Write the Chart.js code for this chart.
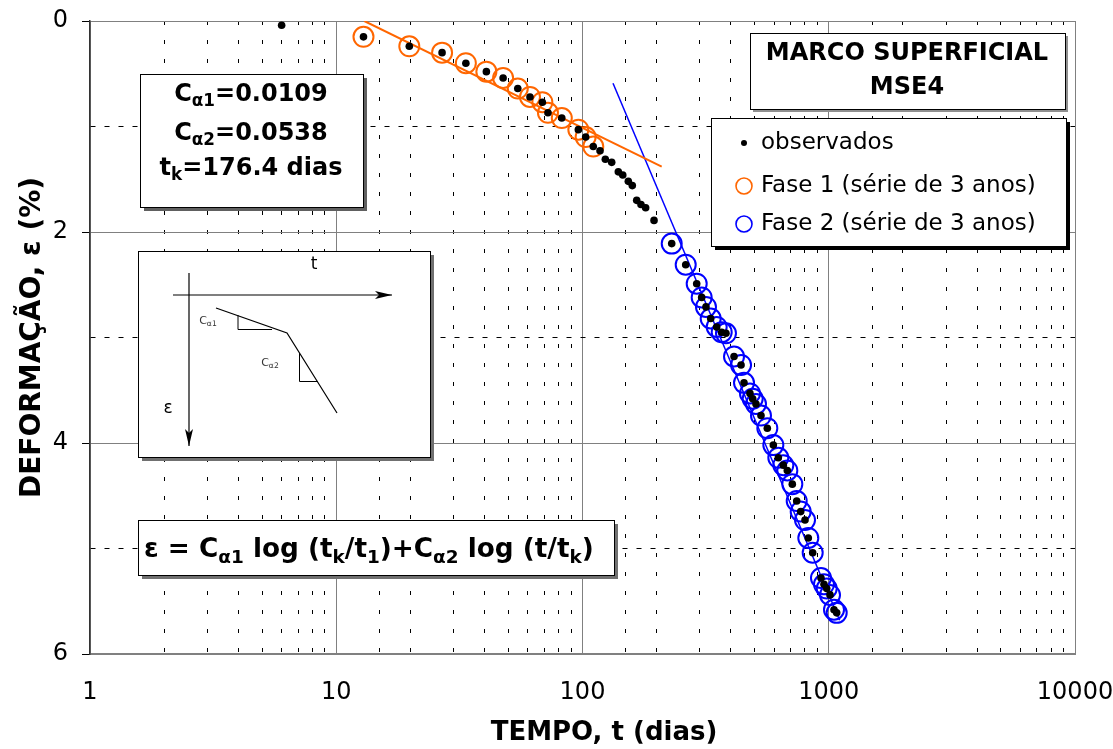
<!DOCTYPE html>
<html lang="pt">
<head>
<meta charset="utf-8">
<title>Marco superficial MSE4</title>
<script src="https://cdn.jsdelivr.net/npm/chart.js@4.4.1/dist/chart.umd.min.js"></script>
<style>
  html, body { margin: 0; padding: 0; background: #fff; }
  #grafico { display: block; }
</style>
</head>
<body>
<canvas id="grafico" width="1113" height="749"></canvas>
<script>
// Valores: tempo (dias) e deformação (%)
const tInicial = [6.0];
const eInicial = [0.04];

const tFase1 = [12.9, 19.8, 26.9, 33.6, 40.7, 47.6, 54.6, 61.2, 68.7, 72.4, 82.4, 96.2, 103.0, 110.6];
const eFase1 = [0.15, 0.24, 0.30, 0.40, 0.48, 0.54, 0.64, 0.72, 0.77, 0.87, 0.92, 1.03, 1.10, 1.19];

const tTransicao = [117.8, 123.8, 131.4, 139.8, 145.7, 153.5, 159.3, 166.0, 172.8, 180.5, 195.2];
const eTransicao = [1.23, 1.31, 1.34, 1.43, 1.46, 1.52, 1.56, 1.70, 1.74, 1.77, 1.89];

const tFase2 = [230.3, 262.5, 290.9, 304.8, 317.3, 331.6, 350.7, 367.5, 382.5, 412.4, 440.4, 452.8,
                478.8, 491.1, 506.5, 530.7, 563.0, 595.6, 624.1, 653.9, 678.8, 711.2, 741.1, 769.3,
                800.9, 826.0, 860.6, 930.0, 956.5, 981.1, 1011.8, 1050.3, 1077.2];
const eFase2 = [2.11, 2.31, 2.49, 2.62, 2.71, 2.82, 2.90, 2.95, 2.96, 3.18, 3.26, 3.43,
                3.53, 3.58, 3.63, 3.74, 3.86, 4.02, 4.14, 4.21, 4.26, 4.39, 4.55, 4.65,
                4.73, 4.90, 5.04, 5.28, 5.34, 5.38, 5.44, 5.58, 5.61];

// Retas de ajuste (extremos)
const tReta1 = [13.0, 209.7];
const eReta1 = [0.0, 1.38];
const tReta2 = [133, 1107];
const eReta2 = [0.59, 5.68];

// Rótulos dos eixos
const xTicks = [1, 10, 100, 1000, 10000];
const yTicks = [0, 2, 4, 6];

const FONTE = '"DejaVu Sans", sans-serif';
const LARANJA = '#ff6600';
const AZUL = '#0000ff';

Chart.defaults.font.family = FONTE;
Chart.defaults.color = '#000';

const pontos = (ts, es) => ts.map((t, i) => ({ x: t, y: es[i] }));
const ehDecada = v => xTicks.some(t => Math.abs(t - v) < t * 1e-6);
const ehPar = v => yTicks.includes(v);

// texto com subscritos: partes = [[texto, sub], ...]
function textoRico(ctx, partes, x, y, tam, negrito, alinhar) {
    const fonte = s => (negrito ? 'bold ' : '') + s + 'px ' + FONTE;
    let total = 0;
    partes.forEach(([t, sub]) => {
        ctx.font = fonte(sub ? tam * 0.7 : tam);
        total += ctx.measureText(t).width;
    });
    let cx = alinhar === 'center' ? x - total / 2 : x;
    ctx.textAlign = 'left';
    ctx.textBaseline = 'alphabetic';
    partes.forEach(([t, sub]) => {
        ctx.font = fonte(sub ? tam * 0.7 : tam);
        ctx.fillText(t, cx, y + (sub ? tam * 0.22 : 0));
        cx += ctx.measureText(t).width;
    });
}

function caixa(ctx, x, y, w, h, sombra, corSombra) {
    ctx.fillStyle = corSombra;
    ctx.fillRect(x + sombra, y + sombra, w, h);
    ctx.fillStyle = '#fff';
    ctx.fillRect(x, y, w, h);
    ctx.strokeStyle = '#000';
    ctx.lineWidth = 1;
    ctx.strokeRect(x + 0.5, y + 0.5, w, h);
}

function seta(ctx, x1, y1, x2, y2) {
    const ang = Math.atan2(y2 - y1, x2 - x1);
    ctx.beginPath();
    ctx.moveTo(x1, y1);
    ctx.lineTo(x2, y2);
    ctx.stroke();
    ctx.save();
    ctx.translate(x2, y2);
    ctx.rotate(ang);
    ctx.beginPath();
    ctx.moveTo(0, 0);
    ctx.lineTo(-17, -4);
    ctx.lineTo(-13, 0);
    ctx.lineTo(-17, 4);
    ctx.closePath();
    ctx.fill();
    ctx.restore();
}

const anotacoes = {
    id: 'anotacoes',
    afterDraw(chart) {
        const ctx = chart.ctx;
        ctx.save();

        // título do eixo x
        ctx.fillStyle = '#000';
        ctx.font = 'bold 26px ' + FONTE;
        ctx.textAlign = 'center';
        ctx.textBaseline = 'middle';
        ctx.fillText('TEMPO, t (dias)', 604, 733);

        // caixa dos coeficientes
        caixa(ctx, 140, 74, 223, 133, 4, '#606060');
        ctx.fillStyle = '#000';
        textoRico(ctx, [['C', 0], ['α1', 1], ['=0.0109', 0]], 251, 101, 24, true, 'center');
        textoRico(ctx, [['C', 0], ['α2', 1], ['=0.0538', 0]], 251, 140, 24, true, 'center');
        textoRico(ctx, [['t', 0], ['k', 1], ['=176.4 dias', 0]], 251, 175, 24, true, 'center');

        // esquema
        caixa(ctx, 138, 251, 292, 206, 4, '#707070');
        ctx.strokeStyle = '#000';
        ctx.fillStyle = '#000';
        ctx.lineWidth = 1.2;
        seta(ctx, 173, 295, 392, 295);
        seta(ctx, 189, 273, 189, 446);
        ctx.beginPath();
        ctx.moveTo(216, 308);
        ctx.lineTo(287, 333);
        ctx.lineTo(337, 413);
        ctx.stroke();
        ctx.lineWidth = 1;
        ctx.beginPath();
        ctx.moveTo(238, 315);
        ctx.lineTo(238, 329.5);
        ctx.lineTo(272, 329.5);
        ctx.moveTo(299.5, 353);
        ctx.lineTo(299.5, 381.5);
        ctx.lineTo(318, 381.5);
        ctx.stroke();
        ctx.font = '17px ' + FONTE;
        ctx.textAlign = 'center';
        ctx.textBaseline = 'middle';
        ctx.fillText('t', 314, 265);
        ctx.fillText('ε', 168, 409);
        ctx.fillStyle = '#333';
        textoRico(ctx, [['C', 0], ['α1', 1]], 208, 324, 11, false, 'center');
        textoRico(ctx, [['C', 0], ['α2', 1]], 270, 366, 11, false, 'center');

        // equação
        caixa(ctx, 138, 520, 476, 55, 4, '#707070');
        ctx.fillStyle = '#000';
        textoRico(ctx, [['ε = C', 0], ['α1', 1], [' log (t', 0], ['k', 1], ['/t', 0], ['1', 1],
                        [')+C', 0], ['α2', 1], [' log (t/t', 0], ['k', 1], [')', 0]],
                  144, 557, 26.3, true, 'left');

        // título
        caixa(ctx, 750, 33, 315, 76, 3, '#909090');
        ctx.fillStyle = '#000';
        ctx.font = 'bold 24px ' + FONTE;
        ctx.textAlign = 'center';
        ctx.textBaseline = 'alphabetic';
        ctx.fillText('MARCO SUPERFICIAL', 907, 60);
        ctx.fillText('MSE4', 907, 94);

        // legenda
        caixa(ctx, 711, 118, 355, 128, 4, '#000');
        ctx.fillStyle = '#000';
        ctx.beginPath();
        ctx.arc(744, 143, 3, 0, Math.PI * 2);
        ctx.fill();
        ctx.lineWidth = 1.6;
        ctx.strokeStyle = LARANJA;
        ctx.beginPath();
        ctx.arc(744, 186, 8, 0, Math.PI * 2);
        ctx.stroke();
        ctx.strokeStyle = AZUL;
        ctx.beginPath();
        ctx.arc(744, 224, 8, 0, Math.PI * 2);
        ctx.stroke();
        ctx.font = '23px ' + FONTE;
        ctx.textAlign = 'left';
        ctx.textBaseline = 'middle';
        ctx.fillText('observados', 761, 143);
        ctx.fillText('Fase 1 (série de 3 anos)', 761, 186);
        ctx.fillText('Fase 2 (série de 3 anos)', 761, 224);

        ctx.restore();
    }
};

const ctx = document.getElementById('grafico').getContext('2d');
new Chart(ctx, {
    type: 'scatter',
    data: {
        datasets: [
            {
                label: 'observados',
                data: pontos(tInicial.concat(tFase1, tTransicao, tFase2),
                             eInicial.concat(eFase1, eTransicao, eFase2)),
                pointRadius: 3.8,
                pointBackgroundColor: '#000',
                pointBorderWidth: 0
            },
            {
                label: 'Fase 1 (série de 3 anos)',
                data: pontos(tFase1, eFase1),
                pointRadius: 10,
                pointBorderWidth: 2,
                pointBorderColor: LARANJA,
                pointBackgroundColor: 'rgba(0,0,0,0)'
            },
            {
                label: 'Fase 2 (série de 3 anos)',
                data: pontos(tFase2, eFase2),
                pointRadius: 10,
                pointBorderWidth: 2,
                pointBorderColor: AZUL,
                pointBackgroundColor: 'rgba(0,0,0,0)'
            },
            {
                label: 'reta 1',
                data: pontos(tReta1, eReta1),
                showLine: true,
                borderColor: LARANJA,
                borderWidth: 2,
                pointRadius: 0
            },
            {
                label: 'reta 2',
                data: pontos(tReta2, eReta2),
                showLine: true,
                borderColor: AZUL,
                borderWidth: 1.5,
                pointRadius: 0
            }
        ]
    },
    options: {
        responsive: false,
        animation: false,
        events: [],
        layout: { padding: { top: 21, right: 38, left: 0, bottom: 0 } },
        plugins: {
            legend: { display: false },
            tooltip: { enabled: false }
        },
        scales: {
            x: {
                type: 'logarithmic',
                position: 'bottom',
                min: 1,
                max: 10000,
                afterFit(scale) {
                    scale.height = 95;
                    scale.paddingLeft = 0;
                    scale.paddingRight = 0;
                },
                ticks: {
                    autoSkip: false,
                    maxRotation: 0,
                    padding: 24,
                    font: { size: 24 },
                    color: '#000',
                    callback: v => ehDecada(v) ? String(v) : ''
                },
                grid: {
                    drawTicks: false,
                    color: c => c.tick && !ehDecada(c.tick.value) ? '#000' : '#808080',
                    lineWidth: 1
                },
                border: {
                    color: '#808080',
                    width: 2,
                    dash: c => c.tick && !ehDecada(c.tick.value) ? [4, 15] : []
                }
            },
            y: {
                type: 'linear',
                reverse: true,
                min: 0,
                max: 6,
                afterFit(scale) {
                    scale.width = 90;
                    scale.paddingTop = 0;
                    scale.paddingBottom = 0;
                },
                ticks: {
                    stepSize: 1,
                    padding: 14,
                    font: { size: 24 },
                    color: '#000',
                    callback: v => ehPar(v) ? String(v) : ''
                },
                grid: {
                    tickLength: 8,
                    color: c => c.tick && !ehPar(c.tick.value) ? '#000' : '#808080',
                    tickColor: c => c.tick && ehPar(c.tick.value) ? '#000' : 'rgba(0,0,0,0)',
                    lineWidth: 1
                },
                border: {
                    color: '#333',
                    width: 1.5,
                    dash: c => c.tick && !ehPar(c.tick.value) ? [5, 9] : []
                },
                title: {
                    display: true,
                    text: 'DEFORMAÇÃO, ε (%)',
                    font: { size: 28, weight: 'bold' },
                    color: '#000',
                    padding: { top: 16, bottom: 0 }
                }
            }
        }
    },
    plugins: [anotacoes]
});
</script>
</body>
</html>
